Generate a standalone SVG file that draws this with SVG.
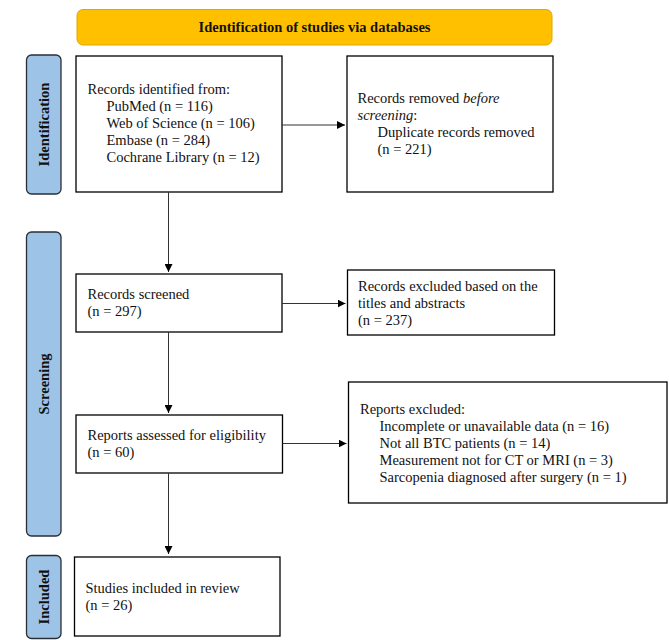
<svg xmlns="http://www.w3.org/2000/svg" width="669" height="640" viewBox="0 0 669 640">
<defs>
<style>
.box{fill:#fff;stroke:#000;stroke-width:1.3}
.side{fill:#9DC3E6;stroke:#2a2f36;stroke-width:1.3}
.banner{fill:#FFC000;stroke:#E0A800;stroke-width:1}
text{font-family:"Liberation Serif","Times New Roman",serif;font-size:14.5px;fill:#111}
.b{font-weight:bold}
.lab{font-weight:bold;font-size:14.5px;text-anchor:middle}
.conn{stroke:#333;stroke-width:1;fill:none}
</style>
<marker id="ah" viewBox="0 0 10 10" refX="10" refY="5" markerWidth="8" markerHeight="8" markerUnits="userSpaceOnUse" orient="auto">
<path d="M0,0 L10,5 L0,10 z" fill="#000"/>
</marker>
</defs>
<rect width="669" height="640" fill="#fff"/>
<g id="banner">
<rect class="banner" x="77" y="9.5" width="475" height="35.5" rx="6"/>
<text class="b" x="314.5" y="32" text-anchor="middle">Identification of studies via databases</text>
</g>
<g id="side-identification">
<rect class="side" x="26.5" y="55" width="34.5" height="139" rx="5"/>
<text class="lab" transform="translate(48.5,124.5) rotate(-90)">Identification</text>
</g>
<g id="side-screening">
<rect class="side" x="26.5" y="232" width="34.5" height="304" rx="5"/>
<text class="lab" transform="translate(48.5,384) rotate(-90)">Screening</text>
</g>
<g id="side-included">
<rect class="side" x="26.5" y="555.5" width="34.5" height="83" rx="5"/>
<text class="lab" transform="translate(48.5,597) rotate(-90)">Included</text>
</g>
<g id="records-identified">
<rect class="box" x="76" y="56" width="206" height="136"/>
<text x="87.5" y="94">Records identified from:</text>
<text x="106.5" y="111">PubMed (n = 116)</text>
<text x="106.5" y="128">Web of Science (n = 106)</text>
<text x="106.5" y="145">Embase (n = 284)</text>
<text x="106.5" y="162">Cochrane Library (n = 12)</text>
</g>
<g id="records-removed">
<rect class="box" x="347" y="56" width="206" height="136"/>
<text x="357.5" y="103">Records removed <tspan font-style="italic">before</tspan></text>
<text x="357.5" y="120"><tspan font-style="italic">screening</tspan>:</text>
<text x="377.5" y="137">Duplicate records removed</text>
<text x="377.5" y="154">(n = 221)</text>
</g>
<g id="records-screened">
<rect class="box" x="76" y="274" width="206" height="58"/>
<text x="87.5" y="299">Records screened</text>
<text x="87.5" y="316">(n = 297)</text>
</g>
<g id="records-excluded">
<rect class="box" x="347.5" y="270" width="207" height="65"/>
<text x="358" y="291">Records excluded based on the</text>
<text x="358" y="308">titles and abstracts</text>
<text x="358" y="325">(n = 237)</text>
</g>
<g id="reports-assessed">
<rect class="box" x="76" y="415" width="206.5" height="58"/>
<text x="87.5" y="440">Reports assessed for eligibility</text>
<text x="87.5" y="457">(n = 60)</text>
</g>
<g id="reports-excluded">
<rect class="box" x="348.5" y="382" width="318.5" height="121"/>
<text x="360" y="414">Reports excluded:</text>
<text x="379.5" y="431">Incomplete or unavailable data (n = 16)</text>
<text x="379.5" y="448">Not all BTC patients (n = 14)</text>
<text x="379.5" y="465">Measurement not for CT or MRI (n = 3)</text>
<text x="379.5" y="481.5">Sarcopenia diagnosed after surgery (n = 1)</text>
</g>
<g id="studies-included">
<rect class="box" x="74.5" y="557" width="205.5" height="79"/>
<text x="85.5" y="593">Studies included in review</text>
<text x="85.5" y="610">(n = 26)</text>
</g>
<g id="connectors">
<line class="conn" x1="282" y1="125" x2="345" y2="125" marker-end="url(#ah)"/>
<line class="conn" x1="168.5" y1="192" x2="168.5" y2="272" marker-end="url(#ah)"/>
<line class="conn" x1="282" y1="303.5" x2="345.5" y2="303.5" marker-end="url(#ah)"/>
<line class="conn" x1="168.5" y1="332" x2="168.5" y2="413" marker-end="url(#ah)"/>
<line class="conn" x1="282.5" y1="443.5" x2="346.5" y2="443.5" marker-end="url(#ah)"/>
<line class="conn" x1="168.5" y1="473" x2="168.5" y2="554" marker-end="url(#ah)"/>
</g>
</svg>
